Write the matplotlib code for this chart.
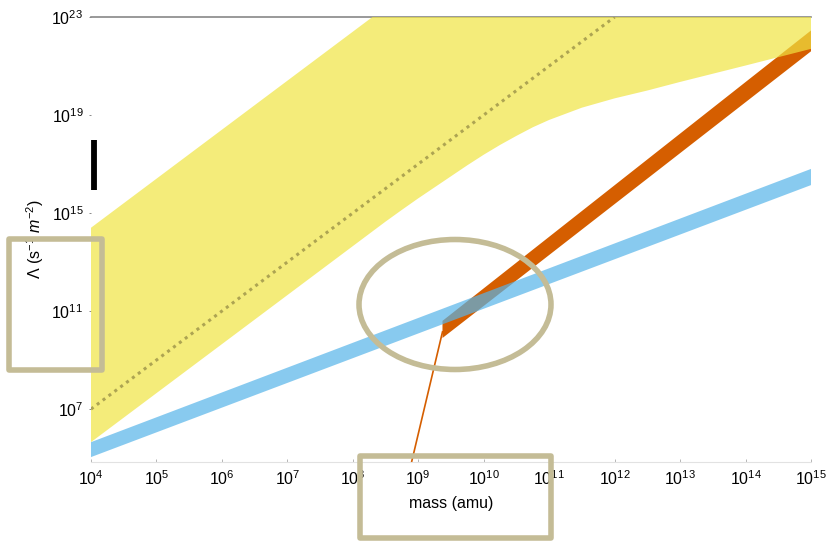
import numpy as np
import matplotlib
matplotlib.use('Agg')
import matplotlib.pyplot as plt
from matplotlib.patches import Rectangle, Ellipse
from matplotlib.ticker import LogFormatterMathtext, FixedLocator

plt.rcParams['font.family'] = ['Liberation Sans', 'DejaVu Sans']
plt.rcParams['mathtext.fontset'] = 'custom'
plt.rcParams['mathtext.rm'] = 'Liberation Sans'
plt.rcParams['mathtext.it'] = 'Liberation Sans:italic'

# values, as log10 exponents
yellow_low_logx = [4.0, 8.5, 8.75, 9.0, 9.25, 9.5, 9.75, 10.0, 10.25, 10.5, 10.75,
                   11.0, 11.5, 12.0, 12.5, 13.0, 14.0, 15.0]
yellow_low_logy = [5.65, 14.65, 15.13, 15.6, 16.05, 16.5, 16.95, 17.38, 17.78, 18.15, 18.5,
                   18.8, 19.3, 19.68, 20.0, 20.35, 21.02, 21.7]
yellow_up_logx = [4.0, 8.3, 15.0]
yellow_up_logy = [14.4, 23.0, 23.0]

dotted_logx = [4.0, 12.0]
dotted_logy = [7.0, 23.0]

blue_logx = [4.0, 15.0]
blue_low_logy = [5.04, 16.14]
blue_up_logy = [5.65, 16.8]

orange_logx = [9.37, 15.0]
orange_low_logy = [9.9, 21.6]
orange_up_logy = [10.6, 22.45]
orange_thin_logx = [8.85, 9.37]
orange_thin_logy = [4.3, 10.15]

bar_logx = 4.053
bar_logy = [15.94, 17.98]

x_ticks = [4, 5, 6, 7, 8, 9, 10, 11, 12, 13, 14, 15]
y_ticks = [7, 11, 15, 19, 23]


def p(v):
    return 10.0 ** np.array(v)


W, H = 829, 541
fig = plt.figure(figsize=(W / 100, H / 100), dpi=100)
ax = fig.add_axes([91 / W, 1 - 462 / H, 720 / W, 445 / H])
ax.set_xscale('log')
ax.set_yscale('log')

# orange band
ax.fill(np.concatenate([p(orange_logx), p(orange_logx)[::-1]]),
        np.concatenate([p(orange_low_logy), p(orange_up_logy)[::-1]]),
        color='#d55e00', lw=0, zorder=2)
ax.plot(p(orange_thin_logx), p(orange_thin_logy), color='#d55e00', lw=1.2, zorder=2)

# blue band
ax.fill(np.concatenate([p(blue_logx), p(blue_logx)[::-1]]),
        np.concatenate([p(blue_low_logy), p(blue_up_logy)[::-1]]),
        color='#56b4e9', alpha=0.7, lw=0, zorder=3)

# yellow band
ax.fill(np.concatenate([p(yellow_low_logx), p(yellow_up_logx)[::-1]]),
        np.concatenate([p(yellow_low_logy), p(yellow_up_logy)[::-1]]),
        color='#f0e442', alpha=0.7, lw=0, zorder=4)
ax.plot(p(dotted_logx), p(dotted_logy), ls=(0, (1, 1.4)), lw=2.2, color='#ada452', zorder=5)

# black bar
ax.plot([10 ** bar_logx] * 2, p(bar_logy), color='black', lw=4.2,
        solid_capstyle='butt', zorder=6, clip_on=False)

ax.set_xlim(1e4, 1e15)
ax.set_ylim(10 ** 4.84, 1e23)
ax.xaxis.set_major_locator(FixedLocator(p(x_ticks)))
ax.yaxis.set_major_locator(FixedLocator(p(y_ticks)))
ax.xaxis.set_minor_locator(FixedLocator([]))
ax.yaxis.set_minor_locator(FixedLocator([]))
ax.xaxis.set_major_formatter(LogFormatterMathtext())
ax.yaxis.set_major_formatter(LogFormatterMathtext())
ax.tick_params(axis='x', direction='in', length=2, width=0.6, color='#aaaaaa',
               pad=5, labelsize=11.5)
ax.tick_params(axis='y', direction='out', length=1.5, width=0.6, color='#777777',
               pad=4, labelsize=11.5)

for s in ['left', 'right']:
    ax.spines[s].set_visible(False)
ax.spines['top'].set_color('#888888')
ax.spines['top'].set_linewidth(1.2)
ax.spines['bottom'].set_color('#e2e2e2')
ax.spines['bottom'].set_linewidth(0.8)

ax.set_xlabel('mass (amu)', fontsize=11.5, labelpad=6)
ax.set_ylabel('$\\Lambda$ (s$^{-1}$ $m^{-2}$)', fontsize=11.5, labelpad=4)

# tan annotation shapes, in figure pixels
tan = '#c4bc96'


def fx(x):
    return x / W


def fy(y):
    return 1 - y / H


fig.add_artist(Rectangle((fx(9), fy(370)), (102.5 - 9) / W, (370 - 239.5) / H,
                         transform=fig.transFigure, fill=False, ec=tan, lw=4,
                         joinstyle='round', zorder=10))
fig.add_artist(Rectangle((fx(360), fy(538)), (551 - 360) / W, (538 - 456) / H,
                         transform=fig.transFigure, fill=False, ec=tan, lw=4,
                         joinstyle='round', zorder=10))
fig.add_artist(Ellipse((fx(455), fy(304.5)), 192 / W, 130 / H,
                       transform=fig.transFigure, fill=False, ec=tan, lw=4,
                       zorder=10))

fig.savefig('out.png', dpi=100)
